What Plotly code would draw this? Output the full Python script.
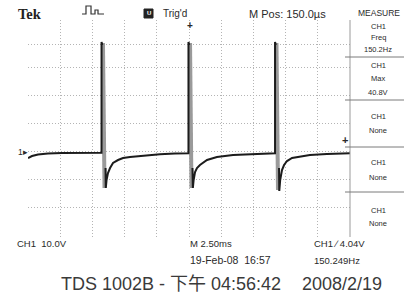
import plotly.graph_objects as go

# ---------------- data ----------------
# time in ms (M 2.50 ms/div, 10 div), CH1 volts (10.0 V/div)
T_MS = [0.00, 0.31, 0.78, 1.55, 2.64, 4.04, 5.71, 5.71, 5.77, None,
        6.02, 6.04, 6.10, 6.21, 6.37, 6.60, 6.99, 7.38, 7.92, 8.70, 10.25, 11.41, 12.46, 12.46, 12.52, None,
        12.77, 12.80, 12.86, 12.97, 13.12, 13.35, 13.90, 14.67, 15.92, 17.47, 19.18, 19.18, 19.24, None,
        19.49, 19.51, 19.58, 19.72, 19.88, 20.11, 20.50, 20.89, 21.89, 23.21, 25.00]
CH1_V = [-2.58, -1.84, -1.29, -0.92, -0.74, -0.66, -0.66, 40.19, 39.08, None,
         -6.27, -13.64, -10.69, -8.11, -6.27, -4.42, -3.32, -2.58, -2.21, -1.84, -1.22, -0.92, -0.85, 40.19, 39.08, None,
         -6.27, -13.64, -10.69, -7.74, -6.27, -5.16, -3.32, -2.21, -1.47, -1.11, -0.85, 40.19, 39.08, None,
         -6.27, -14.75, -10.69, -7.01, -5.16, -3.69, -2.58, -2.21, -1.47, -1.11, -0.85]
# persistence envelope of the falling edges (grey band)
ENV_T = [5.82, 5.94, None, 12.58, 12.69, None, 19.29, 19.41]
ENV_V = [39.82, -13.64, None, 39.82, -13.64, None, 39.82, -14.38]

GRID_T = [0, 2.5, 5, 7.5, 10, 12.5, 15, 17.5, 20, 22.5, 25]
GRID_V = [-31.7, -21.0, -10.32, 0, 10.32, 20.65, 30.97, 39.45, 48.3]

MEASURE = [("CH1", "Freq", "150.2Hz"), ("CH1", "Max", "40.8V"),
           ("CH1", "None", None), ("CH1", "None", None), ("CH1", "None", None)]

W, H = 404, 296
L, R, T, B = 28, 350, 20, 237


def px(x, y):
    return (x - L) / (R - L), (B - y) / (B - T)


fig = go.Figure()
fig.add_trace(go.Scatter(x=ENV_T, y=ENV_V, mode="lines",
                         line=dict(color="#9a9a9a", width=4), hoverinfo="skip"))
fig.add_trace(go.Scatter(x=T_MS, y=CH1_V, mode="lines",
                         line=dict(color="#1c1c1c", width=2), hoverinfo="skip"))

axis_common = dict(showgrid=True, gridcolor="#b4b4b4", griddash="1px,2px", gridwidth=1,
                   zeroline=False, showticklabels=False, ticks="", showline=False,
                   tickmode="array")
fig.update_xaxes(range=[0, 25], tickvals=GRID_T, **axis_common)
fig.update_yaxes(range=[GRID_V[0], GRID_V[-1]], tickvals=GRID_V, **axis_common)

ann = []
SCR = "Liberation Sans, Arial, sans-serif"
TXT = "#2a2a2a"


def text(s, x, y, size=9, anchor="left", color=TXT, family=SCR, **kw):
    xp, yp = px(x, y)
    ann.append(dict(text=s, x=xp, y=yp, xref="paper", yref="paper", showarrow=False,
                    xanchor=anchor, yanchor="middle",
                    font=dict(size=size, color=color, family=family), **kw))


text("<b>Tek</b>", 16, 14, size=14.5, family="Liberation Serif, DejaVu Serif, serif", color="#222")
text("Trig'd", 161, 13, size=10)
text("M Pos: 150.0\u00b5s", 247, 14, size=11)
text("MEASURE", 379, 13, size=8.5, anchor="center")

# measure panel
rows = [(27, 38, 50), (65, 78, 92), (117, 130, None), (163, 177, None), (210, 223, None)]
for (a, b, c), (y1, y2, y3) in zip(MEASURE, rows):
    text(a, 378, y1, size=7.5, anchor="center")
    text(b, 378, y2, size=7.5, anchor="center")
    if c:
        text(c, 378, y3, size=7.5, anchor="center")

# markers
text("1\u25b8", 16, 152, size=8.5)
text("<b>+</b>", 190, 25, size=10, anchor="center")
text("<b>+</b>", 345, 140, size=11, anchor="center")

# bottom status
text("CH1  10.0V", 15, 243, size=9.5)
text("M 2.50ms", 188, 243, size=9.5)
text("CH1 \u2215 4.04V", 312, 243, size=9.5)
text("19-Feb-08  16:57", 188, 260, size=10.5)
text("150.249Hz", 312, 260, size=9.5)
text("TDS 1002B - \u4e0b\u5348 04:56:42", 59, 284, size=18, color="#3a3a3a",
     family="Liberation Sans, Noto Sans CJK SC, sans-serif")
text("2008/2/19", 300, 284, size=18, color="#3a3a3a",
     family="Liberation Sans, Noto Sans CJK SC, sans-serif")

shapes = []


def pline(x0, y0, x1, y1, color="#8a8a8a", width=1):
    a = px(x0, y0)
    b = px(x1, y1)
    shapes.append(dict(type="line", xref="paper", yref="paper", x0=a[0], y0=a[1],
                       x1=b[0], y1=b[1], line=dict(color=color, width=width)))


# right border of graticule and measure dividers
pline(R, T, R, B, color="#9a9a9a")
for yy in (57, 100, 147, 192):
    pline(345, yy, 404, yy, color="#7a7a7a")

# acquisition pulse icon
pts = [(82, 14), (86, 14), (86, 6), (91, 6), (91, 14), (95, 14), (95, 10), (98, 10), (98, 14), (104, 14)]
path = "M " + " L ".join(f"{px(x, y)[0]:.4f},{px(x, y)[1]:.4f}" for x, y in pts)
shapes.append(dict(type="path", path=path, xref="paper", yref="paper",
                   line=dict(color="#333", width=1.2)))
# Trig'd box
a = px(144, 9)
b = px(153, 18)
shapes.append(dict(type="rect", xref="paper", yref="paper", x0=a[0], y0=a[1], x1=b[0], y1=b[1],
                   fillcolor="#222", line=dict(color="#222", width=1)))
text("<b>U</b>", 148.5, 13.5, size=6, anchor="center", color="#ffffff")

fig.update_layout(width=W, height=H, margin=dict(l=L, r=W - R, t=T, b=H - B),
                  paper_bgcolor="white", plot_bgcolor="white", showlegend=False,
                  annotations=ann, shapes=shapes)

fig.write_html("out.html", config={"displayModeBar": False},
               post_script="document.body.style.margin='0';document.body.style.overflow='hidden';")
